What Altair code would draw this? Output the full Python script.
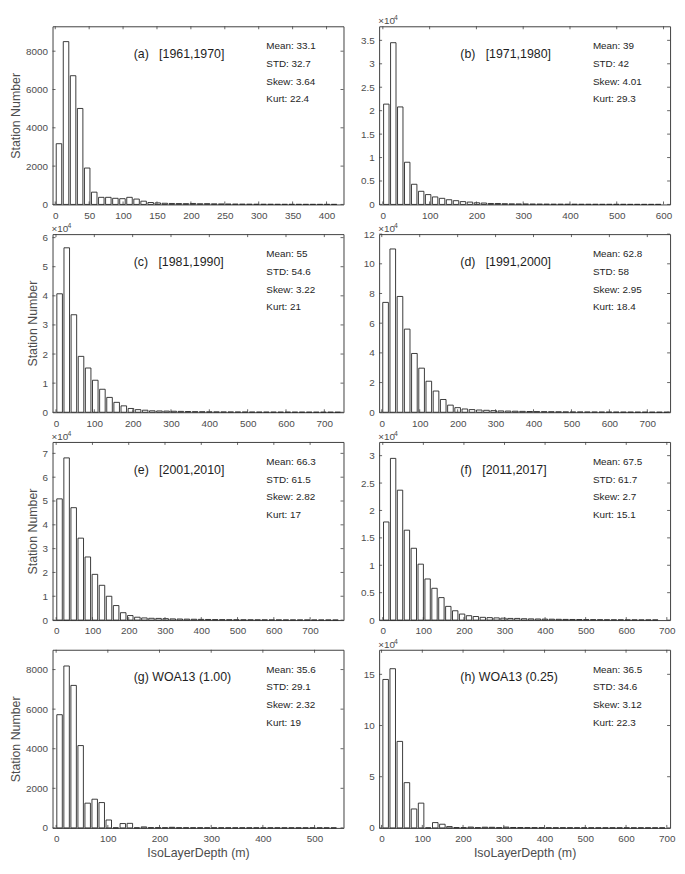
import altair as alt
import pandas as pd

FONT = "Liberation Sans"
W, H = 294, 180

# ---- data ----
panel_labels = [
    "(a)\u00a0\u00a0\u00a0[1961,1970]", "(b)\u00a0\u00a0\u00a0[1971,1980]",
    "(c)\u00a0\u00a0\u00a0[1981,1990]", "(d)\u00a0\u00a0\u00a0[1991,2000]",
    "(e)\u00a0\u00a0\u00a0[2001,2010]", "(f)\u00a0\u00a0\u00a0[2011,2017]",
    "(g) WOA13 (1.00)", "(h) WOA13 (0.25)",
]
mean_vals = ["33.1", "39", "55", "62.8", "66.3", "67.5", "35.6", "36.5"]
std_vals = ["32.7", "42", "54.6", "58", "61.5", "61.7", "29.1", "34.6"]
skew_vals = ["3.64", "4.01", "3.22", "2.95", "2.82", "2.7", "2.32", "3.12"]
kurt_vals = ["22.4", "29.3", "21", "18.4", "17", "15.1", "19", "22.3"]
scaled = [False, True, True, True, True, True, False, True]  # axis in units of 10^4

# counts per 40 bins (in axis units)
counts_a = [3170, 8500, 6720, 5010, 1900, 640, 370, 370, 320, 300, 370, 280, 170, 100, 80, 60, 50, 45, 40, 50,
            35, 40, 30, 25, 20, 18, 15, 12, 10, 8, 8, 6, 5, 5, 4, 3, 3, 2, 2, 2]
counts_b = [2.14, 3.45, 2.08, 0.90, 0.43, 0.28, 0.21, 0.16, 0.13, 0.10, 0.08, 0.06, 0.05, 0.035, 0.03, 0.02,
            0.02, 0.015, 0.012, 0.01, 0.01, 0.008, 0.007, 0.006, 0.005, 0.005, 0.004, 0.004, 0.003, 0.003,
            0.003, 0.002, 0.002, 0.002, 0.002, 0.001, 0.001, 0.001, 0.001, 0.001]
counts_c = [4.07, 5.65, 3.35, 1.92, 1.52, 1.10, 0.79, 0.51, 0.34, 0.22, 0.13, 0.09, 0.07, 0.05, 0.045, 0.04,
            0.035, 0.03, 0.025, 0.02, 0.018, 0.015, 0.013, 0.011, 0.01, 0.009, 0.008, 0.007, 0.006, 0.005,
            0.005, 0.004, 0.004, 0.003, 0.003, 0.003, 0.002, 0.002, 0.002, 0.002]
counts_d = [7.4, 11.0, 7.8, 5.6, 3.96, 2.97, 2.09, 1.43, 0.86, 0.48, 0.31, 0.22, 0.18, 0.15, 0.13, 0.11, 0.09,
            0.08, 0.07, 0.06, 0.05, 0.045, 0.04, 0.035, 0.03, 0.025, 0.02, 0.02, 0.018, 0.015, 0.013, 0.012,
            0.01, 0.009, 0.008, 0.007, 0.006, 0.005, 0.005, 0.004]
counts_e = [5.09, 6.81, 4.72, 3.44, 2.65, 1.92, 1.46, 1.00, 0.61, 0.31, 0.19, 0.12, 0.09, 0.075, 0.07, 0.06,
            0.05, 0.045, 0.04, 0.035, 0.03, 0.025, 0.02, 0.018, 0.015, 0.013, 0.011, 0.01, 0.009, 0.008,
            0.007, 0.006, 0.005, 0.005, 0.004, 0.004, 0.003, 0.003, 0.003, 0.002]
counts_f = [1.79, 2.95, 2.37, 1.64, 1.31, 1.02, 0.75, 0.58, 0.41, 0.25, 0.17, 0.11, 0.08, 0.065, 0.05, 0.045,
            0.04, 0.035, 0.03, 0.03, 0.025, 0.022, 0.02, 0.018, 0.016, 0.014, 0.012, 0.011, 0.01, 0.009,
            0.008, 0.007, 0.006, 0.005, 0.005, 0.004, 0.004, 0.003, 0.003, 0.003]
counts_g = [5720, 8180, 7200, 4160, 1250, 1450, 1280, 400, 0, 220, 230, 0, 50, 10, 10, 5, 30, 5, 5, 3,
            3, 2, 2, 2, 1, 1, 1, 1, 1, 1, 1, 1, 1, 0, 0, 0, 0, 0, 0, 0]
counts_h = [14.5, 15.55, 8.45, 4.42, 1.85, 2.42, 0, 0.52, 0.36, 0.13, 0.03, 0.02, 0.08, 0.02, 0.07, 0.06,
            0.02, 0.08, 0.04, 0.03, 0.02, 0.02, 0.015, 0.01, 0.01, 0.01, 0.008, 0.006, 0.005, 0.005,
            0.004, 0.003, 0.003, 0.002, 0.002, 0.002, 0.001, 0.001, 0.001, 0.001]
all_counts = [counts_a, counts_b, counts_c, counts_d, counts_e, counts_f, counts_g, counts_h]

bin_width = [10.4, 14.9, 18.6, 19.0, 19.5, 17.0, 13.6, 17.4]
first_center = [5.5, 7.4, 9.5, 10.0, 9.3, 8.5, 6.6, 10.0]
x_domain = [(-4, 425), (-8, 614), (-9, 750), (-7, 760), (-10, 792), (-9, 708), (-7, 556), (-6, 708)]
y_max = [9300, 3.8, 6.12, 12, 7.48, 3.25, 9000, 17.4]
x_ticks = [list(range(0, 401, 50)), list(range(0, 601, 100)), list(range(0, 701, 100)),
           list(range(0, 701, 100)), list(range(0, 701, 100)), list(range(0, 701, 100)),
           list(range(0, 501, 100)), list(range(0, 701, 100))]
y_ticks = [[0, 2000, 4000, 6000, 8000], [0, 0.5, 1, 1.5, 2, 2.5, 3, 3.5], [0, 1, 2, 3, 4, 5, 6],
           [0, 2, 4, 6, 8, 10, 12], [0, 1, 2, 3, 4, 5, 6, 7], [0, 0.5, 1, 1.5, 2, 2.5, 3],
           [0, 2000, 4000, 6000, 8000], [0, 5, 10, 15]]

LABEL_C = "#4d4d4d"
TICK_C = "#404040"
TEXT_C = "#1e1e1e"


def panel(i):
    counts = all_counts[i]
    w = bin_width[i]
    c0 = first_center[i]
    n = len(counts)
    bars = pd.DataFrame({
        "lo": [c0 + k * w - 0.39 * w for k in range(n)],
        "hi": [c0 + k * w + 0.39 * w for k in range(n)],
        "count": counts,
        "base": [0] * n,
    })
    left = i % 2 == 0
    bottom = i >= 6
    xs = alt.Scale(domain=list(x_domain[i]), nice=False, zero=False)
    ys = alt.Scale(domain=[0, y_max[i]], nice=False, zero=False)
    xaxis = alt.Axis(values=x_ticks[i], format="~f", ticks=False, domain=False, grid=False, labelFlush=False,
                     labelOverlap=False, labelPadding=6, labelFontSize=10, labelColor=LABEL_C,
                     titleFontSize=12.5, titleFontWeight="normal", titleColor=LABEL_C, titlePadding=3)
    yaxis = alt.Axis(values=y_ticks[i], format="~f", ticks=False, domain=False, grid=False, labelFlush=False,
                     labelOverlap=False, labelPadding=5, labelFontSize=10, labelColor=LABEL_C,
                     titleFontSize=12.5, titleFontWeight="normal", titleColor=LABEL_C, titlePadding=3)
    xtitle = "IsoLayerDepth (m)" if bottom else None
    ytitle = "Station Number" if left else None

    def X(f):
        return alt.X(f, scale=xs, axis=xaxis, title=xtitle)

    def Y(f):
        return alt.Y(f, scale=ys, axis=yaxis, title=ytitle)

    base = alt.Chart(bars).mark_rect(fill="white", stroke="#262626", strokeWidth=0.9).encode(
        x=X("lo:Q"), x2="hi:Q", y=Y("count:Q"), y2="base:Q")

    tx = pd.DataFrame({"t": x_ticks[i]})
    ty = pd.DataFrame({"t": y_ticks[i]})
    rule = dict(color=TICK_C, strokeWidth=0.8)
    xb = alt.Chart(tx).mark_rule(**rule).encode(x=X("t:Q"), y=alt.value(H), y2=alt.value(H - 3))
    xt = alt.Chart(tx).mark_rule(**rule).encode(x=X("t:Q"), y=alt.value(0), y2=alt.value(3))
    yl = alt.Chart(ty).mark_rule(**rule).encode(y=Y("t:Q"), x=alt.value(0), x2=alt.value(3))
    yr = alt.Chart(ty).mark_rule(**rule).encode(y=Y("t:Q"), x=alt.value(W), x2=alt.value(W - 3))

    lab = alt.Chart(pd.DataFrame({"s": [panel_labels[i]]})).mark_text(
        align="left", baseline="middle", fontSize=12.5, color=TEXT_C, font=FONT).encode(
        text="s:N", x=alt.value(82), y=alt.value(28))

    stats = "Mean: {}\nSTD: {}\nSkew: {}\nKurt: {}".format(mean_vals[i], std_vals[i], skew_vals[i], kurt_vals[i])
    st = alt.Chart(pd.DataFrame({"s": [stats]})).mark_text(
        align="left", baseline="top", fontSize=10, lineBreak="\n", lineHeight=18, color=TEXT_C,
        font=FONT).encode(text="s:N", x=alt.value(216), y=alt.value(15))

    layers = [base, xb, xt, yl, yr, lab, st]
    if scaled[i]:
        m1 = alt.Chart(pd.DataFrame({"s": ["\u00d710"]})).mark_text(
            align="left", baseline="alphabetic", fontSize=10, color=LABEL_C, font=FONT).encode(
            text="s:N", x=alt.value(-1), y=alt.value(-2))
        m2 = alt.Chart(pd.DataFrame({"s": ["4"]})).mark_text(
            align="left", baseline="alphabetic", fontSize=7, color=LABEL_C, font=FONT).encode(
            text="s:N", x=alt.value(15), y=alt.value(-6))
        layers += [m1, m2]
    return alt.layer(*layers).properties(width=W, height=H)


panels = [panel(i) for i in range(8)]

chart = alt.concat(
    *panels, columns=2, spacing={"row": 30, "column": 36}, bounds="flush", align="all"
).properties(
    padding={"left": 1, "right": 1, "top": 1, "bottom": 1}
).configure(
    font=FONT,
    view=alt.ViewConfig(stroke="#404040", strokeWidth=1),
)

chart.save("out.html", embed_options={"renderer": "svg", "actions": False})
